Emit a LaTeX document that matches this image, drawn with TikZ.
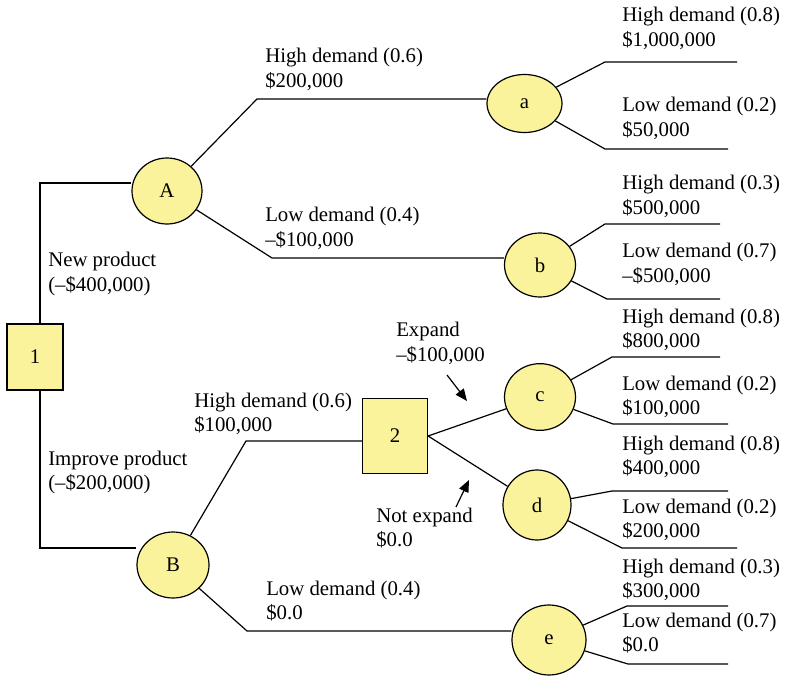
\documentclass[tikz,border=0pt]{standalone}
\usepackage{fontspec}
\setmainfont{Liberation Serif}
\usetikzlibrary{shapes.geometric,arrows.meta}
\definecolor{nodeyellow}{RGB}{250,243,155}
\begin{document}
\begin{tikzpicture}[x=0.75pt,y=-0.75pt,
  every node/.style={font=\fontsize{15.6pt}{18.4pt}\selectfont},
  chance/.style={ellipse,draw=black,line width=0.9pt,fill=nodeyellow,inner sep=0pt},
  decision/.style={rectangle,draw=black,line width=0.9pt,fill=nodeyellow,inner sep=0pt},
  lbl/.style={anchor=base west,align=left,inner sep=0pt,yshift=-18.4pt},
  conn/.style={draw=black,line width=0.9pt},
  pointer/.style={draw=black,line width=0.9pt,-{Triangle[length=9pt,width=7.5pt]}}]
\useasboundingbox (0,0) rectangle (789,677);

% nodes
\node[decision,minimum width=42pt,minimum height=49.5pt] (n1) at (35,357) {1};
\node[decision,minimum width=48.75pt,minimum height=56.25pt] (n2) at (395,436) {2};
\node[chance,minimum width=52.5pt,minimum height=49.5pt] (A) at (167,191) {A};
\node[chance,minimum width=54pt,minimum height=49.5pt] (B) at (173,565) {B};
\node[chance,minimum width=56.25pt,minimum height=43.5pt] (a) at (524.5,103.5) {a};
\node[chance,minimum width=53.25pt,minimum height=48pt] (b) at (540,265) {b};
\node[chance,minimum width=53.25pt,minimum height=50pt] (c) at (540,397) {c};
\node[chance,minimum width=51pt,minimum height=52.5pt] (d) at (537,505) {d};
\node[chance,minimum width=55.5pt,minimum height=52.5pt] (e) at (549,640) {e};

% bend points
\coordinate (k1) at (40,183);
\coordinate (k2) at (40,548);
\coordinate (kAa) at (257,99);
\coordinate (kAb) at (272,258);
\coordinate (kB2) at (246,441);
\coordinate (kBe) at (247,631);
\coordinate (ka1) at (605,62);  \coordinate (ea1) at (737,62);
\coordinate (ka2) at (605,149); \coordinate (ea2) at (728,149);
\coordinate (kb1) at (605,224); \coordinate (eb1) at (720,224);
\coordinate (kb2) at (607,299); \coordinate (eb2) at (720,299);
\coordinate (kc1) at (612,357); \coordinate (ec1) at (720,357);
\coordinate (kc2) at (613,424); \coordinate (ec2) at (728,424);
\coordinate (kd1) at (612,491); \coordinate (ed1) at (728,491);
\coordinate (kd2) at (622,548); \coordinate (ed2) at (737,548);
\coordinate (ke1) at (627,606); \coordinate (ee1) at (728,606);
\coordinate (ke2) at (628,664); \coordinate (ee2) at (728,664);
\coordinate (x1s) at (447,375); \coordinate (x1e) at (467,401);
\coordinate (x2s) at (456,507); \coordinate (x2e) at (469,480);

% connectors
\draw[conn] (n1.north -| k1) -- (k1) -- (k1 -| A.west);
\draw[conn] (n1.south -| k2) -- (k2) -- (k2 -| B.west);
\draw[conn] (A) -- (kAa) -- (kAa -| a.west);
\draw[conn] (A) -- (kAb) -- (kAb -| b.west);
\draw[conn] (B) -- (kB2) -- (kB2 -| n2.west);
\draw[conn] (B) -- (kBe) -- (kBe -| e.west);
\draw[conn] (n2.east) -- (c);
\draw[conn] (n2.east) -- (d);
\draw[conn] (a) -- (ka1) -- (ea1);
\draw[conn] (a) -- (ka2) -- (ea2);
\draw[conn] (b) -- (kb1) -- (eb1);
\draw[conn] (b) -- (kb2) -- (eb2);
\draw[conn] (c) -- (kc1) -- (ec1);
\draw[conn] (c) -- (kc2) -- (ec2);
\draw[conn] (d) -- (kd1) -- (ed1);
\draw[conn] (d) -- (kd2) -- (ed2);
\draw[conn] (e) -- (ke1) -- (ee1);
\draw[conn] (e) -- (ke2) -- (ee2);
\draw[pointer] (x1s) -- (x1e);
\draw[pointer] (x2s) -- (x2e);

% labels
\node[lbl] (lNew) at (48,267) {New product\\(\textendash\$400,000)};
\node[lbl] (lImp) at (48,465) {Improve product\\(\textendash\$200,000)};
\node[lbl] (lAH) at (265,63) {High demand (0.6)\\\$200,000};
\node[lbl] (lAL) at (265,222) {Low demand (0.4)\\\textendash\$100,000};
\node[lbl] (lBH) at (194,407) {High demand (0.6)\\\$100,000};
\node[lbl] (lBL) at (266,595) {Low demand (0.4)\\\$0.0};
\node[lbl] (lExp) at (396,337) {Expand\\\textendash\$100,000};
\node[lbl] (lNot) at (376,522) {Not expand\\\$0.0};
\node[lbl] (la1) at (622,22) {High demand (0.8)\\\$1,000,000};
\node[lbl] (la2) at (622,112) {Low demand (0.2)\\\$50,000};
\node[lbl] (lb1) at (622,190) {High demand (0.3)\\\$500,000};
\node[lbl] (lb2) at (622,258) {Low demand (0.7)\\\textendash\$500,000};
\node[lbl] (lc1) at (622,323) {High demand (0.8)\\\$800,000};
\node[lbl] (lc2) at (622,390) {Low demand (0.2)\\\$100,000};
\node[lbl] (ld1) at (622,450) {High demand (0.8)\\\$400,000};
\node[lbl] (ld2) at (622,513) {Low demand (0.2)\\\$200,000};
\node[lbl] (le1) at (622,573) {High demand (0.3)\\\$300,000};
\node[lbl] (le2) at (622,627) {Low demand (0.7)\\\$0.0};
\end{tikzpicture}
\end{document}
